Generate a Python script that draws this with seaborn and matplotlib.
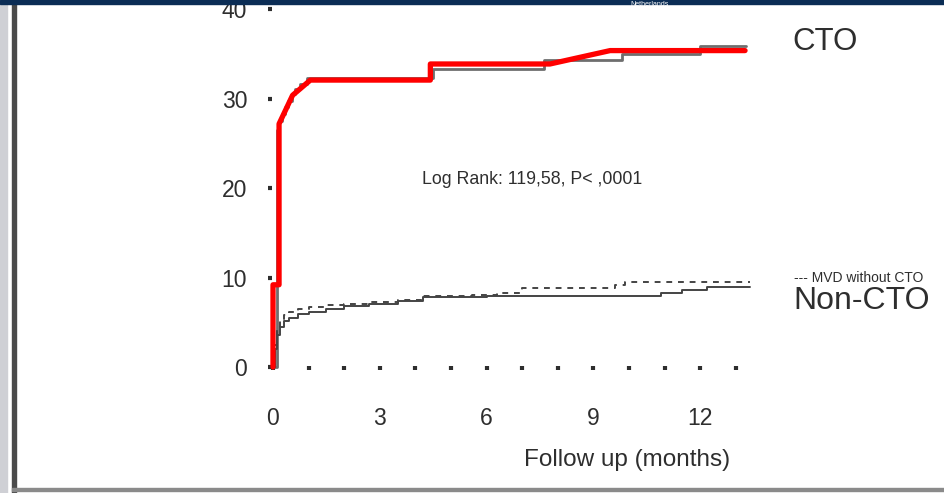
import numpy as np
import pandas as pd
import matplotlib
matplotlib.use("Agg")
import matplotlib.pyplot as plt
import seaborn as sns
from matplotlib.patches import Rectangle

# values (months, cumulative %)
cto_months = [0, 0.1, 0.18, 0.26, 0.34, 0.42, 0.52, 0.62, 0.75, 0.95, 4.5, 7.6, 9.8, 12.0, 13.3]
cto_values = [0, 26.5, 27.5, 28.3, 29.1, 29.8, 30.5, 31.1, 31.7, 32.3, 33.3, 34.3, 35.0, 35.9, 35.9]

red_months = [0, 0, 0.17, 0.17, 0.55, 1.05, 4.42, 4.42, 7.78, 9.47, 13.26]
red_values = [0, 9.2, 9.2, 27.2, 30.4, 32.1, 32.1, 33.9, 33.9, 35.4, 35.4]

noncto_months = [0, 0.05, 0.12, 0.2, 0.3, 0.45, 0.7, 1.0, 1.5, 2.0, 2.7, 3.5, 4.2, 6.0, 10.9, 11.5, 12.2, 13.4]
noncto_values = [0, 2.0, 3.6, 4.5, 5.1, 5.5, 5.9, 6.2, 6.5, 6.8, 7.1, 7.4, 7.8, 8.0, 8.3, 8.6, 8.9, 8.9]

mvd_months = [0, 0.05, 0.12, 0.2, 0.3, 0.45, 0.7, 1.0, 1.5, 2.0, 2.7, 3.5, 4.2, 5.6, 6.3, 7.0, 9.6, 9.9, 13.4]
mvd_values = [0, 2.5, 4.3, 5.2, 5.8, 6.2, 6.5, 6.7, 6.9, 7.1, 7.3, 7.5, 7.9, 8.1, 8.3, 8.8, 9.2, 9.55, 9.55]

month_ticks = list(range(14))
month_labels = [str(m) if m % 3 == 0 else "" for m in month_ticks]
pct_ticks = [0, 10, 20, 30, 40]

sns.set_theme(style="white")
plt.rcParams["font.family"] = ["Liberation Sans", "DejaVu Sans"]
ink = "#2e2e2e"

W, H = 945, 493
fig = plt.figure(figsize=(W / 100, H / 100), dpi=100)
fig.patch.set_facecolor("white")

def fx(px):
    return px / W

def fy(py):
    return 1 - py / H

# slide frame bits
fig.patches.append(Rectangle((0, 0), fx(7), 1, transform=fig.transFigure, color="#cfd0d5", zorder=0))
fig.patches.append(Rectangle((fx(12), 0), fx(4), fy(4), transform=fig.transFigure, color="#4a4a4a", zorder=0))
fig.patches.append(Rectangle((0, fy(4)), 1, 4 / H, transform=fig.transFigure, color="#0b2d55", zorder=0))
fig.patches.append(Rectangle((fx(12), fy(491)), 1, 3 / H, transform=fig.transFigure, color="#8a8a8a", zorder=0))
fig.text(fx(650), fy(4), "Netherlands", color="white", fontsize=5, ha="center", va="center")

# 0 % sits at y=367 px, 40 % at y=9.5 px, month 0 at x=273 px
ax = fig.add_axes([fx(255.2), fy(384.9), fx(505.5), (384.9 - 4.1) / H])
ax.set_facecolor("none")

sns.lineplot(x=cto_months, y=cto_values, ax=ax, color="#6e6e6e", lw=2.0,
             drawstyle="steps-post", estimator=None, sort=False)
sns.lineplot(x=noncto_months, y=noncto_values, ax=ax, color="#444444", lw=1.4,
             drawstyle="steps-post", estimator=None, sort=False)
sns.lineplot(x=mvd_months, y=mvd_values, ax=ax, color="#444444", lw=1.4,
             linestyle=(0, (3, 3)), drawstyle="steps-post", estimator=None, sort=False)
sns.lineplot(x=red_months, y=red_values, ax=ax, color="#ff0000", lw=3.8,
             estimator=None, sort=False)

ax.set_xlim(-0.5, 13.7)
ax.set_ylim(-2, 40.6)
ax.set_xticks(month_ticks)
ax.set_xticklabels(month_labels)
ax.set_yticks(pct_ticks)
ax.set_yticklabels([str(v) for v in pct_ticks])

for side in ["top", "right", "left", "bottom"]:
    ax.spines[side].set_color("none")
ax.spines["left"].set_position(("data", -0.08))
ax.spines["bottom"].set_position(("data", -0.15))

ax.tick_params(axis="both", which="both", direction="inout", length=3, width=3, color=ink,
               labelcolor=ink, labelsize=16.5)
ax.tick_params(axis="y", left=True, pad=15)
ax.tick_params(axis="x", bottom=True, pad=26)
ax.set_xlabel("")
ax.set_ylabel("")

fig.text(fx(627), fy(460), "Follow up (months)", color=ink, fontsize=17.5, ha="center", va="center")
fig.text(fx(532), fy(180), "Log Rank: 119,58, P< ,0001", color=ink, fontsize=12.8, ha="center", va="center")
fig.text(fx(792), fy(42), "CTO", color=ink, fontsize=22.5, ha="left", va="center")
fig.text(fx(794), fy(278), "--- MVD without CTO", color=ink, fontsize=10, ha="left", va="center")
fig.text(fx(793), fy(301), "Non-CTO", color=ink, fontsize=23, ha="left", va="center")

fig.savefig("out.png", dpi=100)
